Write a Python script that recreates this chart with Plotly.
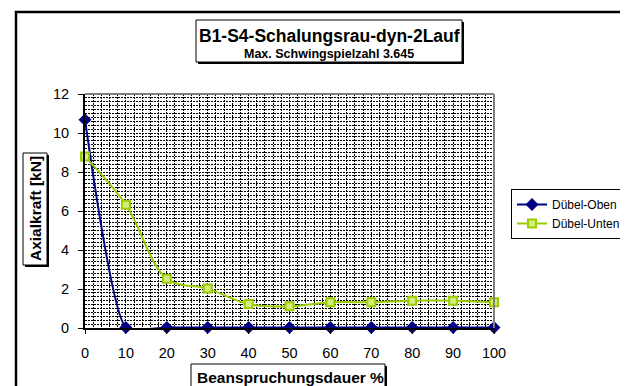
import plotly.graph_objects as go

# data
dauer = [0, 10, 20, 30, 40, 50, 60, 70, 80, 90, 100]
duebel_oben = [10.68, 0.03, 0.03, 0.03, 0.03, 0.03, 0.03, 0.03, 0.03, 0.03, 0.03]
duebel_unten = [8.79, 6.32, 2.53, 2.02, 1.23, 1.11, 1.32, 1.32, 1.40, 1.40, 1.32]

W, H = 628, 386
L, R, T, B = 77, 486, 86, 320  # plot area in pixels


def px(x):
    return (x - L) / (R - L)


def py(y):
    return (B - y) / (B - T)


fig = go.Figure()
fig.add_trace(go.Scatter(
    x=dauer, y=duebel_oben, name="Dübel-Oben", mode="lines+markers",
    line=dict(color="#000080", width=2, shape="spline", smoothing=0.5),
    marker=dict(symbol="diamond", size=10, color="#000080"),
    cliponaxis=False,
))
fig.add_trace(go.Scatter(
    x=dauer, y=duebel_unten, name="Dübel-Unten", mode="lines+markers",
    line=dict(color="#99CC00", width=2, shape="spline"),
    marker=dict(symbol="square", size=8, color="#D4EC7A",
                line=dict(color="#99CC00", width=2)),
    cliponaxis=False,
))

grid = dict(gridcolor="black", gridwidth=1, griddash="2px,1px")

fig.update_xaxes(
    range=[0, 100], tick0=0, dtick=10, showline=True, linecolor="black",
    linewidth=2, ticks="outside", ticklen=4, tickcolor="black",
    ticklabelstandoff=7, zeroline=False, showgrid=True, **grid,
    minor=dict(dtick=2, showgrid=True, ticks="", **grid),
    tickfont=dict(size=14.5, color="black"),
)
fig.update_yaxes(
    range=[0, 12], tick0=0, dtick=2, showline=True, linecolor="black",
    linewidth=2, ticks="outside", ticklen=5, tickcolor="black",
    ticklabelstandoff=6, zeroline=False, showgrid=True, **grid,
    minor=dict(dtick=0.2, showgrid=True, ticks="", **grid),
    tickfont=dict(size=14.5, color="black"),
)

shapes = [
    # outer chart frame (runs off the right and bottom edge)
    dict(type="rect", xref="paper", yref="paper", x0=px(8), y0=py(400),
         x1=px(650), y1=py(4), line=dict(color="black", width=2.5)),
    # grey top and right border of the plot area
    dict(type="line", xref="paper", yref="paper", x0=0, y0=1, x1=1, y1=1,
         line=dict(color="#808080", width=2)),
    dict(type="line", xref="paper", yref="paper", x0=1, y0=0, x1=1, y1=1,
         line=dict(color="#808080", width=2)),
]


def box(x0, y0, x1, y1):
    # framed label box with a small shadow
    return [
        dict(type="rect", xref="paper", yref="paper", x0=px(x0 + 2), y0=py(y1 + 2),
             x1=px(x1 + 2), y1=py(y0 + 2), line=dict(width=0), fillcolor="black"),
        dict(type="rect", xref="paper", yref="paper", x0=px(x0), y0=py(y1),
             x1=px(x1), y1=py(y0), line=dict(color="black", width=1),
             fillcolor="white"),
    ]


shapes += box(188, 12, 454, 54)
shapes += box(15, 145, 39, 257)
shapes += box(183, 356, 377, 382)

annotations = [
    dict(text="<b>B1-S4-Schalungsrau-dyn-2Lauf</b>", x=px(321), y=py(28),
         font=dict(size=17.5, color="black")),
    dict(text="<b>Max. Schwingspielzahl 3.645</b>", x=px(321), y=py(46),
         font=dict(size=12.5, color="black")),
    dict(text="<b>Axialkraft [kN]</b>", x=px(27), y=py(201), textangle=-90,
         font=dict(size=15.5, color="black")),
    dict(text="<b>Beanspruchungsdauer %</b>", x=px(187), y=py(369),
         xanchor="left", font=dict(size=15.5, color="black")),
]
for a in annotations:
    a.setdefault("xanchor", "center")
    a.update(xref="paper", yref="paper", showarrow=False, yanchor="middle")

fig.update_layout(
    width=W, height=H,
    margin=dict(l=L, r=W - R, t=T, b=H - B, autoexpand=False),
    paper_bgcolor="white", plot_bgcolor="white",
    font=dict(family="Liberation Sans, Arial, sans-serif", color="black"),
    showlegend=True,
    legend=dict(x=px(503), y=py(181), xanchor="left", yanchor="top",
                bordercolor="black", borderwidth=1, bgcolor="white",
                font=dict(size=12, color="black"), itemwidth=30,
                tracegroupgap=0),
    shapes=shapes,
    annotations=annotations,
)

fig.write_html("out.html")
